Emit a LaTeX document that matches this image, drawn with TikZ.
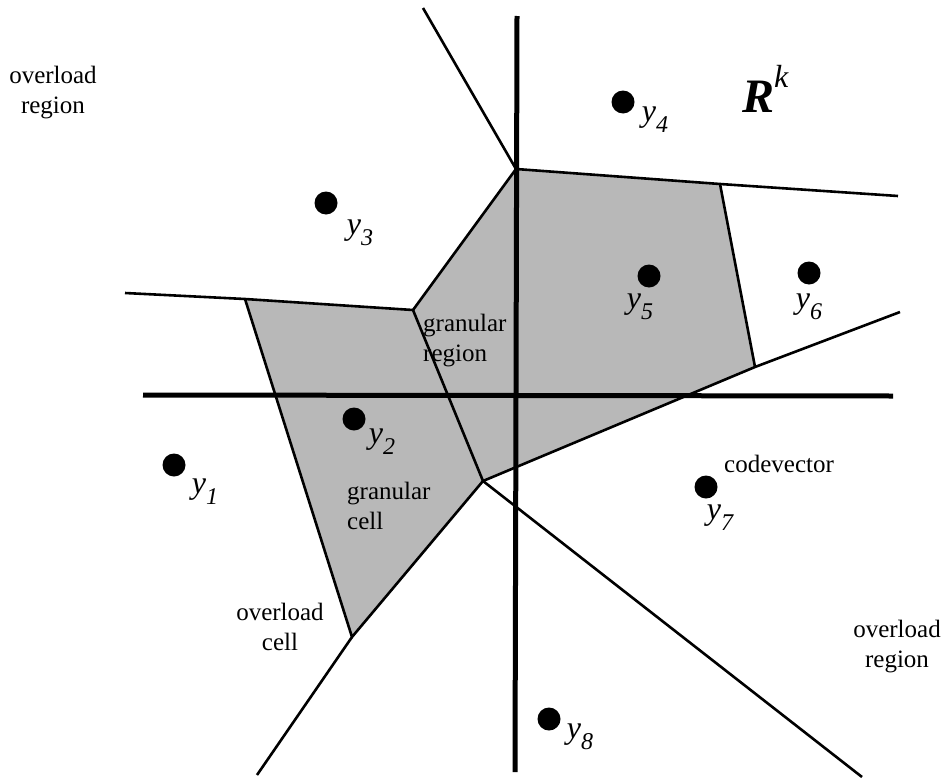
\documentclass[tikz,border=0pt]{standalone}
\usepackage{fontspec}
\setmainfont{Liberation Serif}
\usepackage{xcolor}
\definecolor{granulargray}{gray}{0.72}
\usepackage{tikz}
\usetikzlibrary{calc, positioning}
\newcommand{\cv}[1]{{\fontsize{32}{32}\selectfont\itshape y\raisebox{-11pt}{\fontsize{24}{24}\selectfont #1}}}

\begin{document}
\begin{tikzpicture}[x=1pt, y=-1pt,
    cellline/.style={line width=2.6pt, line join=miter},
    axisline/.style={line width=5pt},
    codept/.style={circle, fill=black, inner sep=0pt, minimum size=23pt},
    cvlabel/.style={inner sep=0pt},
    note/.style={inner sep=0pt, font=\fontsize{25}{30}\selectfont}]
    \useasboundingbox (0,0) rectangle (942,779);

    % cell vertices
    \coordinate (A) at (516,169);
    \coordinate (B) at (720,184);
    \coordinate (C) at (413,310);
    \coordinate (D) at (483,481);
    \coordinate (E) at (245,299);
    \coordinate (F) at (352,637);
    \coordinate (G) at (755,367);
    % free ends of the boundaries
    \coordinate (top) at (423,8);
    \coordinate (right1) at (898,196);
    \coordinate (right2) at (900,312);
    \coordinate (left) at (125,293);
    \coordinate (botleft) at (257,775);
    \coordinate (botright) at (862,777);
    % axes ends
    \coordinate (xl) at (143,395);
    \coordinate (xr) at (893,396);
    \coordinate (yt) at (517,16);
    \coordinate (yb) at (515,772);

    % granular region
    \fill[granulargray] (E) -- (C) -- (A) -- (B) -- (G) -- (D) -- (F) -- cycle;

    % cell boundaries
    \draw[cellline] (top) -- (A) -- (B) -- (right1);
    \draw[cellline] (B) -- (G);
    \draw[cellline] (D) -- (G) -- (right2);
    \draw[cellline] (left) -- (E) -- (C) -- (A);
    \draw[cellline] (C) -- (D);
    \draw[cellline] (E) -- (F) -- (D);
    \draw[cellline] (F) -- (botleft);
    \draw[cellline] (D) -- (botright);

    % axes
    \draw[axisline] (xl) -- (xr);
    \draw[axisline] (yt) -- (yb);

    % codevectors
    \node[codept] (y1) at (174,465) {};
    \node[codept] (y2) at (354,419) {};
    \node[codept] (y3) at (326,203) {};
    \node[codept] (y4) at (623,102) {};
    \node[codept] (y5) at (649,276) {};
    \node[codept] (y6) at (809,273) {};
    \node[codept] (y7) at (706,487) {};
    \node[codept] (y8) at (549,719) {};

    \node[cvlabel] (l1) at ($(y1)+(31,27)$) {\cv{1}};
    \node[cvlabel] (l2) at ($(y2)+(28,23)$) {\cv{2}};
    \node[cvlabel] (l3) at ($(y3)+(34,30)$) {\cv{3}};
    \node[cvlabel] (l4) at ($(y4)+(32,18)$) {\cv{4}};
    \node[cvlabel] (l5) at ($(y5)+(-9,31)$) {\cv{5}};
    \node[cvlabel] (l6) at ($(y6)+(0,34)$) {\cv{6}};
    \node[cvlabel] (l7) at ($(y7)+(14,31)$) {\cv{7}};
    \node[cvlabel] (l8) at ($(y8)+(31,18)$) {\cv{8}};

    % space label
    \node[inner sep=0pt, anchor=base west] (space) at (742,112)
        {\fontsize{48}{48}\selectfont\bfseries\itshape R\raisebox{25pt}{\fontsize{32}{32}\selectfont\mdseries k}};

    % notes
    \node[note, align=center] (ovtl) at (53,92.5) {overload\\region};
    \node[note, align=left, anchor=west] (granreg) at (423,341) {granular\\region};
    \node[note, align=left, anchor=west] (grancell) at (347,505.5) {granular\\cell};
    \node[note, align=center] (ovcell) at (280,626.5) {overload\\cell};
    \node[note, anchor=base west] (codevec) at (724,472) {codevector};
    \node[note, align=center] (ovbr) at (897,646.5) {overload\\region};
\end{tikzpicture}
\end{document}
